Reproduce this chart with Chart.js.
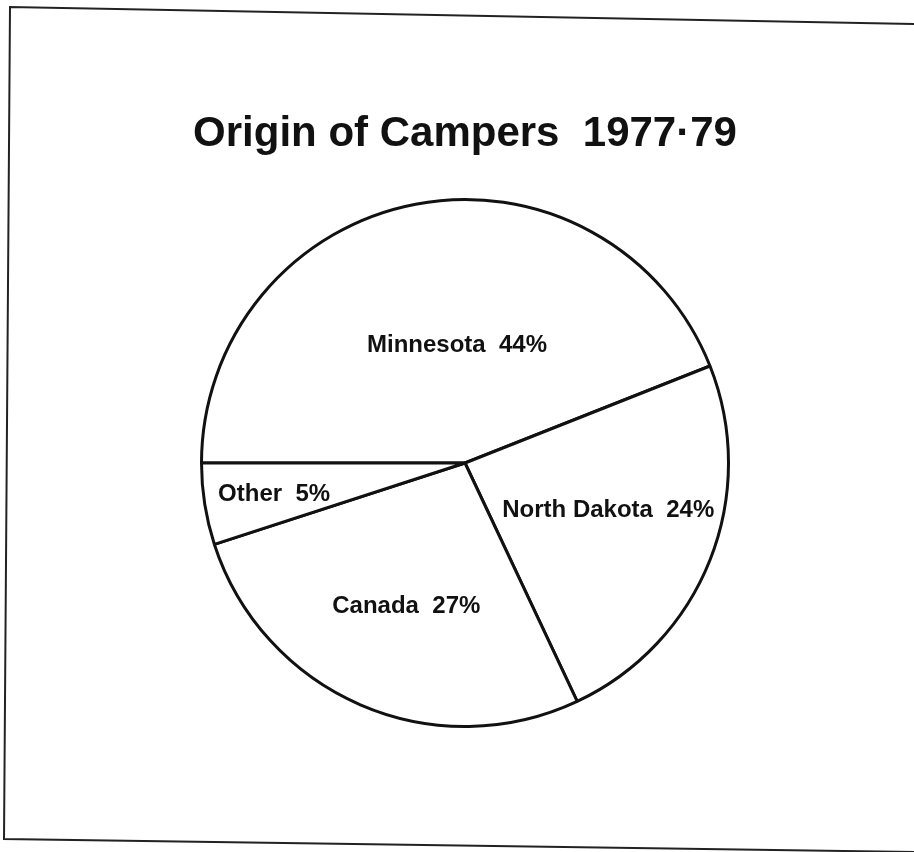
<!DOCTYPE html>
<html>
<head>
<meta charset="utf-8">
<script src="https://cdn.jsdelivr.net/npm/chart.js@4"></script>
<style>
  html, body { margin: 0; padding: 0; background: #fff; }
  #wrap { width: 914px; height: 852px; }
</style>
</head>
<body>
<div id="wrap"><canvas id="chart"></canvas></div>
<script>
// data
var categories = ['Minnesota', 'North Dakota', 'Canada', 'Other'];
var percents = [44, 24, 27, 5];
var titleText = 'Origin of Campers  1977\u00B779';

// the scanned page border
var frame = {
  id: 'frame',
  beforeDraw: function(chart) {
    var c = chart.ctx;
    c.save();
    c.fillStyle = '#fff';
    c.fillRect(0, 0, chart.width, chart.height);
    c.strokeStyle = '#222';
    c.lineWidth = 2;
    c.beginPath();
    c.moveTo(chart.width, 24);
    c.lineTo(10, 7);
    c.lineTo(4, 839);
    c.lineTo(chart.width, 852);
    c.stroke();
    c.restore();
  }
};

// text inside each slice
var sliceText = {
  id: 'sliceText',
  afterDatasetsDraw: function(chart, args, opts) {
    var c = chart.ctx;
    var meta = chart.getDatasetMeta(0);
    c.save();
    c.font = 'bold 24px "Liberation Sans", Arial, sans-serif';
    c.fillStyle = '#111';
    c.textAlign = 'center';
    c.textBaseline = 'middle';
    meta.data.forEach(function(arc, i) {
      var p = arc.getProps(['x', 'y', 'startAngle', 'endAngle', 'outerRadius'], true);
      var a = (p.startAngle + p.endAngle) / 2 + opts.shift[i] * Math.PI / 180;
      var r = p.outerRadius * opts.dist[i];
      var txt = categories[i] + '  ' + percents[i] + '%';
      c.fillText(txt, p.x + Math.cos(a) * r, p.y + Math.sin(a) * r);
    });
    c.restore();
  }
};

var ctx = document.getElementById('chart').getContext('2d');
var myChart = new Chart(ctx, {
  type: 'pie',
  data: {
    labels: categories,
    datasets: [{
      data: percents,
      backgroundColor: '#fff',
      borderColor: '#111',
      borderWidth: 3,
      hoverOffset: 0,
      offset: 0
    }]
  },
  options: {
    responsive: true,
    maintainAspectRatio: false,
    animation: false,
    rotation: 270,
    layout: {
      padding: { top: 0, left: 16, right: 0, bottom: 124 }
    },
    plugins: {
      legend: { display: false },
      tooltip: { enabled: false },
      title: {
        display: true,
        text: titleText,
        color: '#111',
        font: { family: '"Liberation Sans", Arial, sans-serif', size: 42, weight: 'bold', lineHeight: 1.2 },
        padding: { top: 109, bottom: 38.6 }
      },
      sliceText: {
        dist: [0.446, 0.573, 0.587, 0.734],
        shift: [6.9, -3.2, -1.1, -0.2]
      }
    }
  },
  plugins: [frame, sliceText]
});
</script>
</body>
</html>
